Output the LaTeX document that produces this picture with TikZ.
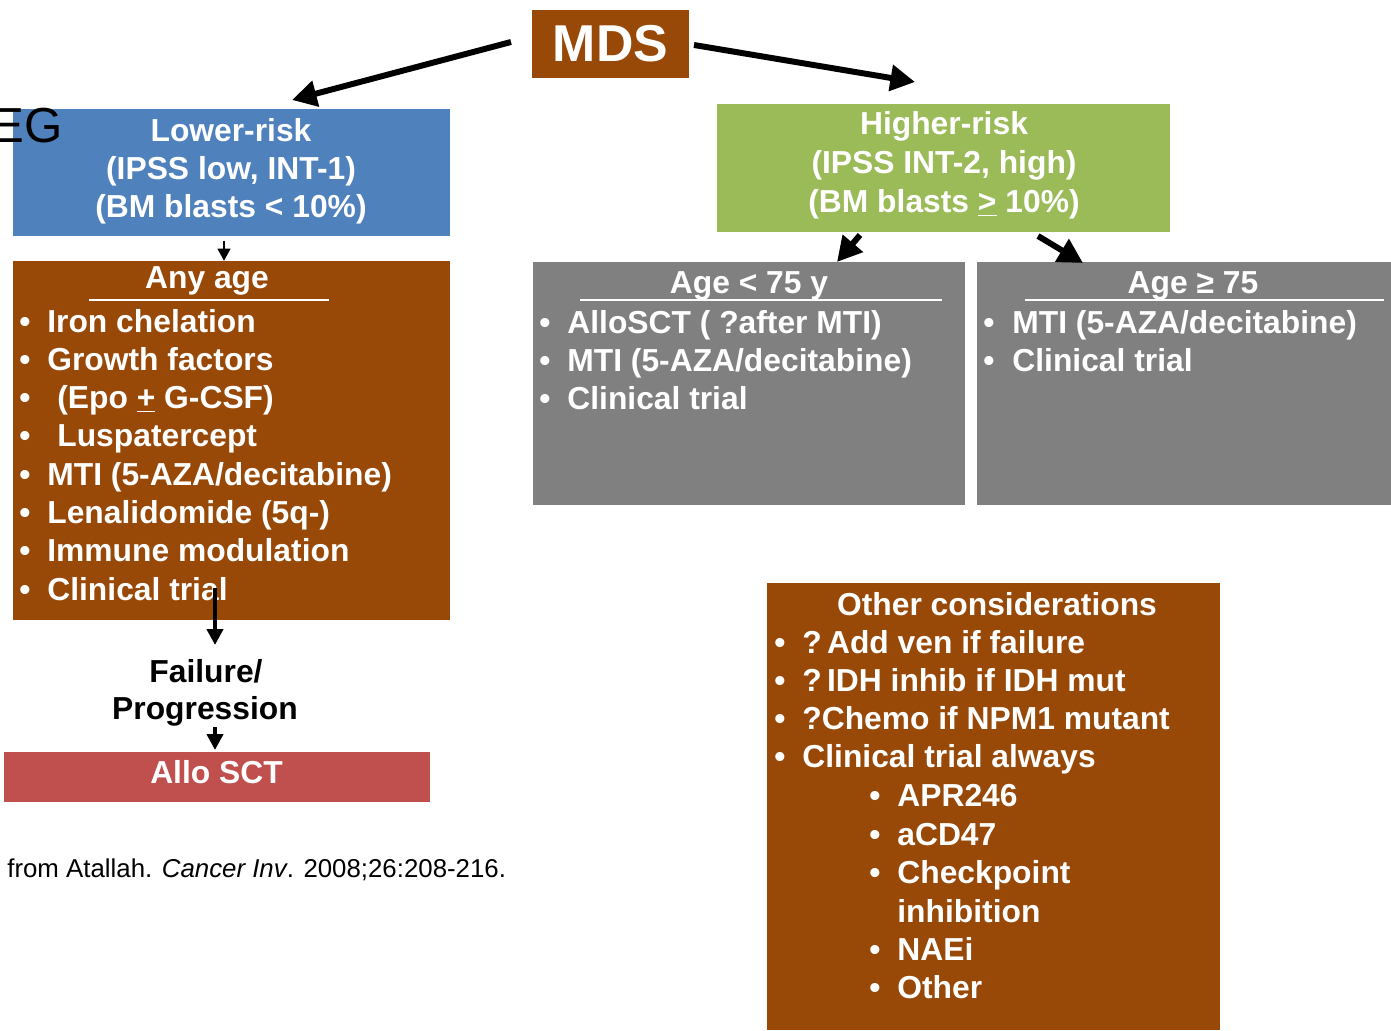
\documentclass[tikz,border=0pt]{standalone}
\usepackage{fontspec}
\setmainfont{Liberation Sans}
\usetikzlibrary{arrows.meta,calc}

\definecolor{mdsbrown}{HTML}{984807}
\definecolor{lowblue}{HTML}{4F81BD}
\definecolor{highgreen}{HTML}{9BBB59}
\definecolor{agegray}{HTML}{808080}
\definecolor{sctred}{HTML}{C0504D}

% one pixel of the slide
\newcommand\pw{0.02cm}

\begin{document}
\begin{tikzpicture}[x=0.02cm, y=-0.02cm,
  box/.style={anchor=north west, inner sep=0pt, outer sep=0pt},
  txt/.style={anchor=base, inner sep=0pt, text=white, font=\fontsize{18.1}{21.7}\selectfont\bfseries},
  item/.style={txt, anchor=base west},
  rule/.style={draw=white, line width=1.2pt},
  bigarrow/.style={line width=3.4pt, -{Triangle[length=14pt,width=14.5pt]}},
  midarrow/.style={line width=2.6pt, -{Triangle[length=9pt,width=9pt]}},
  smallarrow/.style={line width=1.7pt, -{Triangle[length=7pt,width=7pt]}}]
\useasboundingbox (0,0) rectangle (1391,1030);

% boxes
\node[box, fill=mdsbrown, minimum width=157*\pw, minimum height=68*\pw] (mds) at (532,10) {};
\node[box, fill=lowblue, minimum width=437*\pw, minimum height=127*\pw] (low) at (13,109) {};
\node[box, fill=highgreen, minimum width=453*\pw, minimum height=128*\pw] (high) at (717,104) {};
\node[box, fill=mdsbrown, minimum width=437*\pw, minimum height=359*\pw] (any) at (13,261) {};
\node[box, fill=agegray, minimum width=432*\pw, minimum height=243*\pw] (young) at (533,262) {};
\node[box, fill=agegray, minimum width=414*\pw, minimum height=243*\pw] (old) at (977,262) {};
\node[box, fill=sctred, minimum width=426*\pw, minimum height=50*\pw] (allo) at (4,752) {};
\node[box, fill=mdsbrown, minimum width=453*\pw, minimum height=447*\pw] (other) at (767,583) {};

% cut-off heading at the left edge
\node[anchor=base east, inner sep=0pt, font=\fontsize{28}{30}\selectfont] (eg) at (63,143) {EG};

\node[txt, font=\fontsize{29.5}{32}\selectfont\bfseries] (mdstext) at (610.5,62) {MDS};

\foreach \y/\t [count=\i] in {142/Lower-risk, 180/{(IPSS low, INT-1)}, 218/{(BM blasts < 10\%)}}
  \node[txt] (low-\i) at (231,\y) {\t};
\foreach \y/\t [count=\i] in {135/Higher-risk, 174/{(IPSS INT-2, high)}, 213/{(BM blasts \underline{>} 10\%)}}
  \node[txt] (high-\i) at (944,\y) {\t};

% any age
\node[txt] (anytitle) at (207,288) {Any age};
\draw[rule] (89,300) -- (329,300);
\foreach \x/\t [count=\i] in {47/Iron chelation, 47/Growth factors, 57/{(Epo \underline{+} G-CSF)},
    57/Luspatercept, 47/{MTI (5-AZA/decitabine)}, 47/{Lenalidomide (5q-)}, 47/Immune modulation,
    47/Clinical trial} {
  \node[txt] (anydot-\i) at (25,{332+38.3*(\i-1)}) {\textbullet};
  \node[item] (any-\i) at (\x,{332+38.3*(\i-1)}) {\t};
}

% age < 75
\node[txt] (youngtitle) at (749,294) {Age < 75 y};
\draw[rule] (580,300) -- (942,300);
\foreach \t [count=\i] in {AlloSCT ( ?after MTI), {MTI (5-AZA/decitabine)}, Clinical trial} {
  \node[txt] (youngdot-\i) at (545,{333+38.3*(\i-1)}) {\textbullet};
  \node[item] (young-\i) at (567,{333+38.3*(\i-1)}) {\t};
}

% age >= 75
\node[txt] (oldtitle) at (1193,294) {Age ≥ 75};
\draw[rule] (1025,300) -- (1384,300);
\foreach \t [count=\i] in {{MTI (5-AZA/decitabine)}, Clinical trial} {
  \node[txt] (olddot-\i) at (989,{333+38.3*(\i-1)}) {\textbullet};
  \node[item] (old-\i) at (1012,{333+38.3*(\i-1)}) {\t};
}

% other considerations
\node[txt] (othertitle) at (997,615) {Other considerations};
\foreach \t [count=\i] in {?\,Add ven if failure, ?\,IDH inhib if IDH mut, ?Chemo if NPM1 mutant,
    Clinical trial always} {
  \node[txt] (otherdot-\i) at (780,{653+38.3*(\i-1)}) {\textbullet};
  \node[item] (other-\i) at (802,{653+38.3*(\i-1)}) {\t};
}
\foreach \y/\t [count=\i] in {806/APR246, 845/aCD47, 883/Checkpoint, 960/NAEi, 998/Other} {
  \node[txt] (subdot-\i) at (875,\y) {\textbullet};
  \node[item] (sub-\i) at (897,\y) {\t};
}
\node[item] (sub-wrap) at (897,922) {inhibition};

% failure path
\node[txt, text=black] (fail) at (206,682) {Failure/};
\node[txt, text=black] (prog) at (205,719) {Progression};
\node[txt] (allotext) at (216.5,783) {Allo SCT};

\node[anchor=base west, inner sep=0pt, font=\fontsize{14.7}{18}\selectfont] (cite) at (7,877)
  {from Atallah. \textit{Cancer Inv}. 2008;26:208-216.};

% arrows
\draw[bigarrow] ($(mds.west)+(-21,-2)$) -- ($(low.north)+(60.5,-9)$);
\draw[bigarrow] ($(mds.east)+(5,1)$) -- ($(high.north)+(-28.5,-22)$);
\draw[bigarrow] ($(high.south)+(-83.5,3)$) -- ($(young.north)+(88,0)$);
\draw[bigarrow] ($(high.south)+(94.5,4)$) -- ($(old.north)+(-101,1)$);
\draw[smallarrow] ($(low.south)+(-7.5,5)$) -- ($(any.north)+(-7.5,0)$);
\draw[midarrow] ($(any.south)+(-16.5,-32)$) -- ($(fail.base)+(9,-37)$);
\draw[midarrow] ($(prog.base)+(10,8)$) -- ($(allo.north)+(-2,-2)$);
\end{tikzpicture}
\end{document}
